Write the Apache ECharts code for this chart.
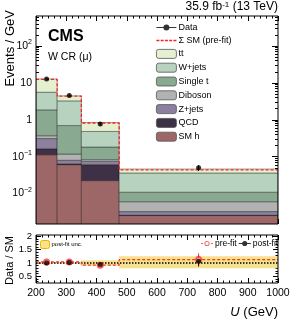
<!DOCTYPE html>
<html>
<head>
<meta charset="utf-8">
<script src="https://cdn.jsdelivr.net/npm/echarts@6/dist/echarts.min.js"></script>
<style>html,body{margin:0;padding:0;background:#fff}#c{width:299px;height:322px}</style>
</head>
<body>
<div id="c"></div>
<script>
// ---- data ----
const edges = [200, 270, 350, 475, 1000];
const xTicks = [200, 300, 400, 500, 600, 700, 800, 900, 1000];
const yTickVals = [0.01, 0.1, 1, 10, 100];
// stacked processes (Events / GeV), bottom to top
const smh     = [0.113, 0.061, 0.0225, 0.00254];
const qcd     = [0.051, 0.003, 0.0383, 0.00005];
const zjets   = [0.146, 0.016, 0.0138, 0.00066];
const diboson = [0.060, 0.038, 0.0084, 0.00277];
const singlet = [1.49, 0.58, 0.100, 0.0049];
const wjets   = [3.74, 2.56, 0.300, 0.0253];
const ttbar   = [7.20, 1.19, 0.360, 0.0102];
const prefitTotal = [12.4, 4.40, 0.82, 0.044];
const dataVals = [12.8, 4.55, 0.77, 0.050];
const dataErr  = [0.4, 0.25, 0.07, 0.009];
// ratio panel
const ratioPost    = [1.00, 1.02, 0.94, 1.07];
const ratioPostErr = [0.03, 0.05, 0.07, 0.20];
const ratioPre     = [1.04, 1.04, 0.92, 1.13];
const ratioPreErr  = [0.03, 0.05, 0.07, 0.23];
const bandLo = [0.975, 0.975, 0.91, 0.80];
const bandHi = [1.025, 1.025, 1.10, 1.25];
const ratioTicks = [0.5, 1, 1.5, 2];

const procNames  = ['SM h', 'QCD', 'Z+jets', 'Diboson', 'Single t', 'W+jets', 'tt'];
const procVals   = [smh, qcd, zjets, diboson, singlet, wjets, ttbar];
const procColors = ['#9E6767', '#3E3047', '#8C809E', '#B2B2B2', '#89A991', '#B8D2C0', '#E4F0D0'];

const FONT = 'Liberation Sans';
const nb = edges.length - 1;
const centers = [];
for (let i = 0; i < nb; i++) centers.push((edges[i] + edges[i + 1]) / 2);

const YMIN = 0.0015, YMAX = 650;
const minorLog = [];
for (let d = -4; d <= 3; d++) for (let m = 2; m <= 9; m++) {
  const v = m * Math.pow(10, d);
  if (v > YMIN && v < YMAX) minorLog.push(+v.toPrecision(3));
}
const minorRatio = [];
for (let v = 0.3; v < 2.05; v += 0.1) minorRatio.push(+v.toFixed(2));

// build stacked rectangles
const cum = new Array(nb).fill(0);
const stackSeries = [];
procNames.forEach((name, k) => {
  const d = [];
  for (let i = 0; i < nb; i++) {
    const lo = k === 0 ? 1e-5 : cum[i];
    const hi = cum[i] + procVals[k][i];
    d.push([edges[i], edges[i + 1], lo, hi]);
    cum[i] = hi;
  }
  stackSeries.push({
    type: 'custom', name, xAxisIndex: 0, yAxisIndex: 0, clip: true, z: 2,
    itemStyle: { color: procColors[k], borderColor: '#555', borderWidth: 0.8 },
    encode: { x: [0, 1], y: [2, 3] },
    renderItem: function (params, api) {
      const p0 = api.coord([api.value(0), api.value(3)]);
      const p1 = api.coord([api.value(1), api.value(2)]);
      return { type: 'rect', shape: { x: p0[0], y: p0[1], width: p1[0] - p0[0], height: p1[1] - p0[1] },
        style: { fill: procColors[k], stroke: 'rgba(0,0,0,0.45)', lineWidth: 0.8 } };
    },
    data: d
  });
});

function stepData(vals) {
  const d = [];
  for (let i = 0; i < nb; i++) d.push([edges[i], vals[i]]);
  d.push([edges[nb], vals[nb - 1]]);
  return d;
}
function errSeries(name, xi, yi, vals, errs, color, z) {
  return {
    type: 'custom', name, xAxisIndex: xi, yAxisIndex: yi, z: z || 5, silent: true,
    renderItem: function (params, api) {
      const a = api.coord([api.value(0), api.value(1) - api.value(2)]);
      const b = api.coord([api.value(0), api.value(1) + api.value(2)]);
      return { type: 'line', shape: { x1: a[0], y1: a[1], x2: b[0], y2: b[1] }, style: { stroke: color, lineWidth: 1 } };
    },
    data: vals.map((v, i) => [centers[i], v, errs[i]])
  };
}

const bandData = [];
for (let i = 0; i < nb; i++) bandData.push([edges[i], edges[i + 1], bandLo[i], bandHi[i]]);

const chart = echarts.init(document.getElementById('c'), null, { renderer: 'canvas' });

const tickCommon = { inside: true, lineStyle: { color: '#000', width: 1 } };
const gridL = 36, gridW = 242;

function xAxisDef(grid, pos, labels) {
  return {
    type: 'value', gridIndex: grid, position: pos, min: 200, max: 1000, interval: 100,
    axisLine: { show: false }, splitLine: { show: false },
    axisTick: Object.assign({ length: 5 }, tickCommon),
    minorTick: { show: true, splitNumber: 5, length: 2.5, lineStyle: { color: '#000' } },
    axisLabel: labels ? { show: true, fontFamily: FONT, fontSize: 10.5, color: '#000', margin: 5,
      customValues: xTicks, formatter: function (v) { return String(v); } } : { show: false }
  };
}

const logLabelFmt = function (v) {
  const e = Math.round(Math.log10(v));
  if (e === 0) return '{b|1}';
  if (e === 1) return '{b|10}';
  return '{b|10}{s|' + (e < 0 ? '\u2212' + (-e) : e) + '}';
};

const dashIcon = 'path://M0 0 L3 0 L3 1.3 L0 1.3 Z M4.25 0 L7.25 0 L7.25 1.3 L4.25 1.3 Z M8.5 0 L11.5 0 L11.5 1.3 L8.5 1.3 Z M12.75 0 L15.75 0 L15.75 1.3 L12.75 1.3 Z M17 0 L20 0 L20 1.3 L17 1.3 Z';

const option = {
  animation: false,
  backgroundColor: '#fff',
  textStyle: { fontFamily: FONT },
  grid: [
    { left: gridL, top: 16, width: gridW, height: 208, show: true, borderColor: '#000', borderWidth: 1, backgroundColor: 'transparent', z: 10 },
    { left: gridL, top: 235, width: gridW, height: 48, show: true, borderColor: '#000', borderWidth: 1, backgroundColor: 'transparent', z: 10 }
  ],
  xAxis: [
    xAxisDef(0, 'bottom', false),
    xAxisDef(1, 'bottom', true),
    xAxisDef(0, 'top', false),
    xAxisDef(1, 'top', false)
  ],
  yAxis: [
    { type: 'log', gridIndex: 0, min: YMIN, max: YMAX, position: 'left',
      axisLine: { show: false }, splitLine: { show: false },
      axisTick: Object.assign({ length: 6, customValues: yTickVals }, tickCommon),
      axisLabel: { customValues: yTickVals, formatter: logLabelFmt, margin: 4, color: '#000',
        rich: { b: { fontFamily: FONT, fontSize: 10.5, lineHeight: 14, color: '#000' },
                s: { fontFamily: FONT, fontSize: 7, lineHeight: 7, verticalAlign: 'top', color: '#000' } } } },
    { type: 'log', gridIndex: 0, min: YMIN, max: YMAX, position: 'left',
      axisLine: { show: false }, splitLine: { show: false }, axisLabel: { show: false },
      axisTick: Object.assign({ length: 3, customValues: minorLog }, tickCommon) },
    { type: 'log', gridIndex: 0, min: YMIN, max: YMAX, position: 'right',
      axisLine: { show: false }, splitLine: { show: false }, axisLabel: { show: false },
      axisTick: Object.assign({ length: 6, customValues: yTickVals }, tickCommon) },
    { type: 'log', gridIndex: 0, min: YMIN, max: YMAX, position: 'right',
      axisLine: { show: false }, splitLine: { show: false }, axisLabel: { show: false },
      axisTick: Object.assign({ length: 3, customValues: minorLog }, tickCommon) },
    // ratio
    { type: 'value', gridIndex: 1, min: 0.25, max: 2.05, position: 'left',
      axisLine: { show: false }, splitLine: { show: false },
      axisTick: Object.assign({ length: 5, customValues: ratioTicks }, tickCommon),
      axisLabel: { customValues: ratioTicks, fontFamily: FONT, fontSize: 9.5, color: '#000', margin: 4 } },
    { type: 'value', gridIndex: 1, min: 0.25, max: 2.05, position: 'left',
      axisLine: { show: false }, splitLine: { show: false }, axisLabel: { show: false },
      axisTick: Object.assign({ length: 2.5, customValues: minorRatio }, tickCommon) },
    { type: 'value', gridIndex: 1, min: 0.25, max: 2.05, position: 'right',
      axisLine: { show: false }, splitLine: { show: false }, axisLabel: { show: false },
      axisTick: Object.assign({ length: 5, customValues: ratioTicks }, tickCommon) },
    { type: 'value', gridIndex: 1, min: 0.25, max: 2.05, position: 'right',
      axisLine: { show: false }, splitLine: { show: false }, axisLabel: { show: false },
      axisTick: Object.assign({ length: 2.5, customValues: minorRatio }, tickCommon) }
  ],
  legend: [
    { orient: 'vertical', left: 156, top: 23, padding: 0, itemWidth: 20, itemHeight: 9, itemGap: 4,
      textStyle: { fontFamily: FONT, fontSize: 9, color: '#000', padding: [0, 0, 0, -3] },
      itemStyle: { borderColor: '#555', borderWidth: 0.8 },
      data: [
        { name: 'Data', icon: 'path://M0 4 L20 4 L20 5 L0 5 Z M10 1.5 A3 3 0 1 1 10 7.5 A3 3 0 1 1 10 1.5 Z', itemStyle: { borderWidth: 0 } },
        { name: '\u03A3 SM (pre-fit)', icon: dashIcon, itemStyle: { borderWidth: 0 } },
        'tt', 'W+jets', 'Single t', 'Diboson', 'Z+jets', 'QCD', 'SM h'
      ] },
    { orient: 'horizontal', left: 40, top: 240, padding: 0, itemWidth: 9, itemHeight: 8,
      textStyle: { fontFamily: FONT, fontSize: 6, color: '#000', padding: [0, 0, 0, -3] },
      itemStyle: { borderColor: '#F0B000', borderWidth: 1 },
      data: ['post-fit unc.'] },
    { orient: 'horizontal', left: 201, top: 239, padding: 0, itemWidth: 12, itemHeight: 8, itemGap: 2,
      textStyle: { fontFamily: FONT, fontSize: 8.5, color: '#000', padding: [0, 0, 0, -3] },
      data: [
        { name: 'pre-fit', icon: 'path://M0 4 L2.5 4 L2.5 5 L0 5 Z M11.5 4 L14 4 L14 5 L11.5 5 Z M7 1.5 A3 3 0 1 1 7 7.5 A3 3 0 1 1 7 1.5 Z M7 2.5 A2 2 0 1 0 7 6.5 A2 2 0 1 0 7 2.5 Z' },
        { name: 'post-fit', icon: 'path://M0 4 L14 4 L14 5 L0 5 Z M7 1.5 A3 3 0 1 1 7 7.5 A3 3 0 1 1 7 1.5 Z' }
      ] }
  ],
  graphic: [
    { type: 'text', x: 278, y: 1, style: { text: '35.9 fb{s|-1} (13 TeV)', align: 'right', verticalAlign: 'top', fill: '#000',
        font: '12px "' + FONT + '"', rich: { s: { fontSize: 8, verticalAlign: 'top', lineHeight: 8, fontFamily: FONT } } } },
    { type: 'text', x: 48, y: 37, style: { text: 'CMS', fill: '#000', font: 'bold 16px "' + FONT + '"', verticalAlign: 'middle' } },
    { type: 'text', x: 48, y: 57, style: { text: 'W CR (\u03BC)', fill: '#000', font: '10.5px "' + FONT + '"', verticalAlign: 'middle' } },
    { type: 'text', x: 10, y: 10, rotation: Math.PI / 2, style: { text: 'Events / GeV', fill: '#000', font: '13px "' + FONT + '"', align: 'right', verticalAlign: 'middle' } },
    { type: 'text', x: 10, y: 236, rotation: Math.PI / 2, style: { text: 'Data / SM', fill: '#000', font: '11px "' + FONT + '"', align: 'right', verticalAlign: 'middle' } },
    { type: 'text', x: 278, y: 312, style: { text: '{i|U} (GeV)', fill: '#000', font: '13px "' + FONT + '"', align: 'right', verticalAlign: 'middle',
        rich: { i: { fontStyle: 'italic', fontSize: 13, fontFamily: FONT } } } }
  ],
  series: stackSeries.concat([
    { type: 'line', name: '\u03A3 SM (pre-fit)', xAxisIndex: 0, yAxisIndex: 0, step: 'end', symbol: 'none', z: 4,
      lineStyle: { color: '#FF2020', width: 1.3, type: [3, 2] }, itemStyle: { color: '#FF2020' },
      data: stepData(prefitTotal) },
    errSeries('dataErr', 0, 0, dataVals, dataErr, '#000', 6),
    { type: 'scatter', name: 'Data', xAxisIndex: 0, yAxisIndex: 0, symbol: 'circle', symbolSize: 5, z: 7,
      itemStyle: { color: '#000' }, data: dataVals.map((v, i) => [centers[i], v]) },
    // ratio panel
    { type: 'custom', name: 'post-fit unc.', xAxisIndex: 1, yAxisIndex: 4, z: 2,
      itemStyle: { color: '#F7E48A' },
      encode: { x: [0, 1], y: [2, 3] },
      renderItem: function (params, api) {
        const p0 = api.coord([api.value(0), api.value(3)]);
        const p1 = api.coord([api.value(1), api.value(2)]);
        return { type: 'rect', shape: { x: p0[0], y: p0[1], width: p1[0] - p0[0], height: p1[1] - p0[1] }, style: { fill: '#F5E28E' } };
      },
      data: bandData },
    { type: 'line', name: 'unity', xAxisIndex: 1, yAxisIndex: 4, symbol: 'none', z: 3,
      lineStyle: { color: '#000', width: 1.3, type: [1.5, 1.5] }, data: [[200, 1], [1000, 1]] },
    { type: 'line', name: 'preLine', xAxisIndex: 1, yAxisIndex: 4, step: 'end', symbol: 'none', z: 4,
      lineStyle: { color: '#FF3030', width: 1.2, type: [3, 2] }, data: stepData(ratioPre) },
    errSeries('preErr', 1, 4, ratioPre, ratioPreErr, '#FF3030', 5),
    { type: 'scatter', name: 'pre-fit', xAxisIndex: 1, yAxisIndex: 4, symbol: 'emptyCircle', symbolSize: 5, z: 6,
      itemStyle: { color: '#FF3030', borderWidth: 1 }, data: ratioPre.map((v, i) => [centers[i], v]) },
    errSeries('postErr', 1, 4, ratioPost, ratioPostErr, '#000', 6),
    { type: 'scatter', name: 'post-fit', xAxisIndex: 1, yAxisIndex: 4, symbol: 'circle', symbolSize: 5, z: 7,
      itemStyle: { color: '#000' }, data: ratioPost.map((v, i) => [centers[i], v]) }
  ])
};
chart.setOption(option);
</script>
</body>
</html>
